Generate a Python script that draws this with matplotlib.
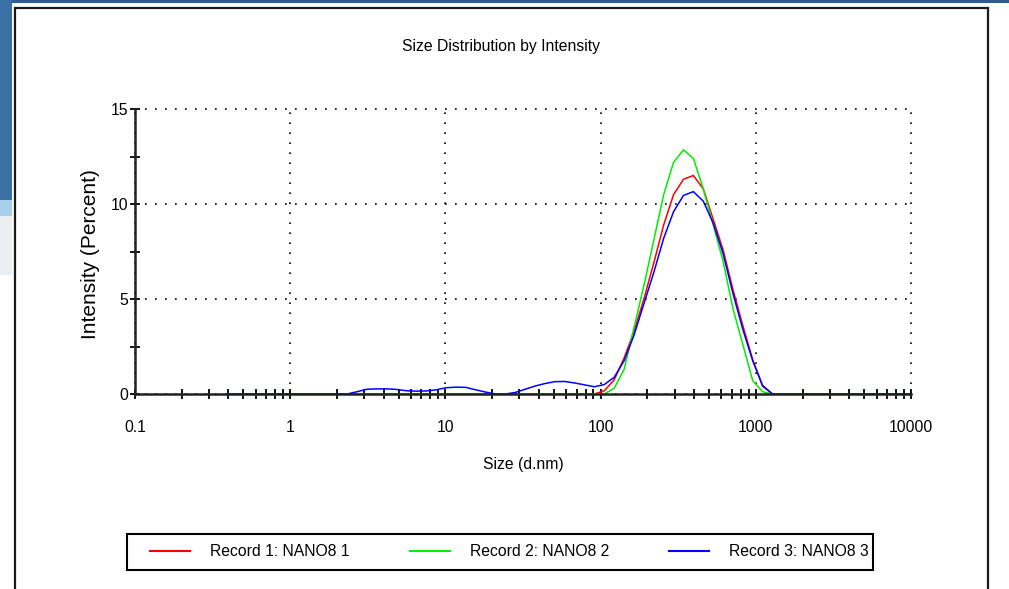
import numpy as np
import matplotlib.pyplot as plt
from matplotlib.patches import Rectangle
from matplotlib.ticker import MultipleLocator, FixedLocator

plt.rcParams['font.family'] = ['Liberation Sans', 'DejaVu Sans']

# size classes (d.nm)
sizes = [0.4, 0.4632, 0.5365, 0.6213, 0.7195, 0.8332, 0.9649, 1.117, 1.294, 1.499,
         1.736, 2.01, 2.328, 2.696, 3.122, 3.615, 4.187, 4.849, 5.615, 6.503,
         7.531, 8.721, 10.1, 11.7, 13.54, 15.69, 18.17, 21.04, 24.36, 28.21,
         32.67, 37.84, 43.82, 50.75, 58.77, 68.06, 78.82, 91.28, 105.7, 122.4,
         141.8, 164.2, 190.1, 220.2, 255.0, 295.3, 342.0, 396.1, 458.7, 531.2,
         615.1, 712.4, 825.0, 955.4, 1106, 1281, 1484, 1718, 1990, 2305,
         2669, 3091, 3580, 4145, 4801, 5560, 6439, 7456, 8635, 10000]

# intensity (%) per record
rec1 = [0] * 38 + [0.17, 0.75, 1.9, 3.3, 5.0, 6.9, 8.9, 10.5, 11.3, 11.5,
                   10.8, 9.2, 7.6, 5.5, 3.6, 1.8, 0.4] + [0] * 15
rec2 = [0] * 39 + [0.3, 1.3, 3.5, 5.7, 8.1, 10.5, 12.2, 12.85, 12.4,
                   10.8, 8.9, 7.0, 4.5, 2.6, 0.7, 0.12] + [0] * 15
rec3 = [0] * 13 + [0.12, 0.25, 0.27, 0.27, 0.24, 0.17, 0.15, 0.16, 0.22,
                   0.33, 0.36, 0.35, 0.22, 0.1, 0, 0, 0.08, 0.25, 0.42,
                   0.55, 0.65, 0.66, 0.58, 0.48, 0.38, 0.5, 0.88, 1.75, 3.1,
                   4.75, 6.4, 8.2, 9.6, 10.45, 10.65, 10.15, 9.0, 7.4, 5.3,
                   3.4, 1.75, 0.45] + [0] * 15

labels = ['Record 1: NANO8 1', 'Record 2: NANO8 2', 'Record 3: NANO8 3']
colors = ['#ff0000', '#00ee00', '#0000ff']

xticks = [0.1, 1, 10, 100, 1000, 10000]
xticklabels = ['0.1', '1', '10', '100', '1000', '10000']
yticks = [0, 5, 10, 15]

W, H = 1009, 589
fs = 11.3
fig = plt.figure(figsize=(W / 100, H / 100), dpi=100)

# screenshot surroundings
fig.add_artist(Rectangle((0, 1 - 200 / H), 12 / W, 200 / H, transform=fig.transFigure,
                         color='#3a70a4', lw=0))
fig.add_artist(Rectangle((0, 1 - 216 / H), 12 / W, 16 / H, transform=fig.transFigure,
                         color='#a8d0ec', lw=0))
fig.add_artist(Rectangle((0, 1 - 275 / H), 12 / W, 59 / H, transform=fig.transFigure,
                         color='#eceff2', lw=0))
fig.add_artist(Rectangle((12 / W, 1 - 3 / H), 1, 3 / H, transform=fig.transFigure,
                         color='#2a5d96', lw=0))
fig.add_artist(Rectangle((15 / W, -0.02), (988 - 15) / W, 1 - 8 / H + 0.02,
                         transform=fig.transFigure, fill=False,
                         edgecolor='#1a1a1a', lw=1.6))

ax = fig.add_axes([135 / W, 195 / H, 776 / W, 285 / H])
series = [rec1, rec2, rec3]
handles = []
for vals, col, lab in zip(series, colors, labels):
    h, = ax.plot(sizes, vals, color=col, lw=1.1, label=lab)
    handles.append(h)

ax.set_xscale('log')
ax.set_xlim(0.1, 10000)
ax.set_ylim(0, 15)
ax.set_xticks(xticks)
ax.set_xticklabels(xticklabels)
ax.xaxis.set_minor_locator(FixedLocator([m * 10.0 ** e for e in range(-1, 4) for m in range(2, 10)]))
ax.xaxis.set_minor_formatter(plt.NullFormatter())
ax.set_yticks(yticks)
ax.yaxis.set_minor_locator(MultipleLocator(2.5))

ax.grid(True, which='major', color='black', linestyle=(0, (1, 5)), lw=1.2)
for gl in ax.get_xgridlines() + ax.get_ygridlines():
    gl.set_clip_on(False)

for s in ['top', 'right']:
    ax.spines[s].set_visible(False)
for s in ['left', 'bottom']:
    ax.spines[s].set_linewidth(1.8)
    ax.spines[s].set_color('#222222')

ax.tick_params(which='both', direction='inout', length=7, width=1.3, color='black')
ax.tick_params(axis='x', labelsize=fs, pad=15)
ax.tick_params(axis='y', labelsize=fs, pad=1.5)

fig.text(501 / W, 1 - 46 / H, 'Size Distribution by Intensity', ha='center', va='center',
         fontsize=fs)
fig.text(523 / W, 1 - 465 / H, 'Size (d.nm)', ha='center', va='center', fontsize=fs)
fig.text(91 / W, 1 - 254 / H, 'Intensity (Percent)', ha='center', va='center',
         rotation=90, fontsize=15)

# legend box
fig.add_artist(Rectangle((127 / W, 1 - 570 / H), 746 / W, 36 / H, transform=fig.transFigure,
                         fill=False, edgecolor='black', lw=1.5))
em = fs * 100 / 72
leg = fig.legend(handles=handles, loc='center left',
                 bbox_to_anchor=(150 / W, 1 - 552 / H),
                 ncol=3, fontsize=fs, frameon=False,
                 handlelength=40 / em, handletextpad=20 / em,
                 columnspacing=60 / em, borderpad=0, borderaxespad=0)
for ln in leg.get_lines():
    ln.set_linewidth(1.5)

fig.savefig('out.png', dpi=100)
